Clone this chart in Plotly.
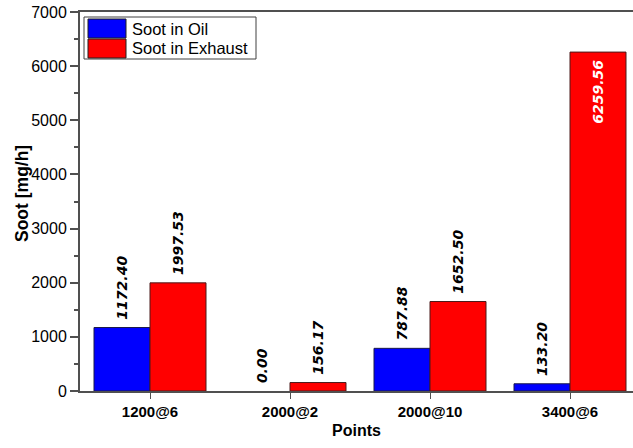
import plotly.graph_objects as go

# Operating points and measured soot rates [mg/h]
points = ["1200@6", "2000@2", "2000@10", "3400@6"]
soot_oil = [1172.40, 0.00, 787.88, 133.20]
soot_exhaust = [1997.53, 156.17, 1652.50, 6259.56]
series_names = ["Soot in Oil", "Soot in Exhaust"]
series_colors = ["#0000FF", "#FF0000"]

W, H = 633, 448
ML, MR, MT, MB = 80, 0, 12, 57
PW, PH = W - ML - MR, H - MT - MB

NB = "\u00a0"
label_font = dict(family="DejaVu Sans", size=14, color="black")


def outside_label(v):
    # leading space lifts the rotated label a little off the bar top
    return f"<b><i>{NB}{v:.2f}</i></b>"


def inside_label(v):
    # trailing space keeps the rotated label a little below the bar top
    return f"<b><i>{v:.2f}{NB}</i></b>"


def px_x(px):
    return (px - ML) / PW


def px_y(py):
    return (H - MB - py) / PH


fig = go.Figure()
fig.add_trace(go.Bar(
    x=points, y=soot_oil, name=series_names[0],
    marker=dict(color=series_colors[0],
                line=dict(color="#1a1a4a", width=[1 if v > 0 else 0 for v in soot_oil])),
    text=[outside_label(v) for v in soot_oil],
    textposition="outside", textangle=-90, constraintext="none",
    outsidetextfont=label_font, cliponaxis=False,
))
exh_pos = ["outside", "outside", "outside", "inside"]
fig.add_trace(go.Bar(
    x=points, y=soot_exhaust, name=series_names[1],
    marker=dict(color=series_colors[1], line=dict(color="#4a1a1a", width=1)),
    text=[inside_label(v) if p == "inside" else outside_label(v)
          for v, p in zip(soot_exhaust, exh_pos)],
    textposition=exh_pos, textangle=-90, constraintext="none",
    insidetextanchor="end",
    outsidetextfont=label_font,
    insidetextfont=dict(family="DejaVu Sans", size=14, color="white"),
    cliponaxis=False,
))

axis_col = "#505050"
fig.update_layout(
    width=W, height=H,
    margin=dict(l=ML, r=MR, t=MT, b=MB),
    paper_bgcolor="white", plot_bgcolor="white",
    barmode="group", bargap=0.2, bargroupgap=0,
    showlegend=False,
    font=dict(family="Liberation Sans, Arial", color="black"),
    xaxis=dict(
        type="category", range=[-0.5, 3.45],
        showline=True, linecolor=axis_col, linewidth=2, mirror=True,
        ticks="outside", ticklen=6, tickcolor=axis_col, tickwidth=1,
        tickfont=dict(size=15, family="Liberation Sans, Arial"),
        tickprefix="<b>", ticksuffix="</b>",
        title=dict(text="<b>Points</b>", font=dict(size=16), standoff=6),
        showgrid=False, zeroline=False,
    ),
    yaxis=dict(
        range=[0, 7000], dtick=1000,
        showline=True, linecolor=axis_col, linewidth=2,
        ticks="outside", ticklen=8, tickcolor=axis_col, tickwidth=2,
        minor=dict(dtick=500, ticks="outside", ticklen=4, tickcolor=axis_col, tickwidth=2),
        tickfont=dict(size=16, family="Liberation Sans, Arial"),
        showgrid=False, zeroline=False,
    ),
)

# Y-axis title placed as a rotated annotation
fig.add_annotation(xref="paper", yref="paper", x=px_x(22), y=px_y(194),
                   text="<b>Soot [mg/h]</b>", textangle=-90, showarrow=False,
                   xanchor="center", yanchor="middle",
                   font=dict(size=17.5, family="Liberation Sans, Arial", color="black"))

# Legend box with large colour swatches
fig.add_shape(type="rect", xref="paper", yref="paper",
              x0=px_x(84), x1=px_x(256), y0=px_y(59), y1=px_y(17),
              line=dict(color="#404040", width=1), fillcolor="white")
for i, (name, col) in enumerate(zip(series_names, series_colors)):
    top = 19 + i * 20
    fig.add_shape(type="rect", xref="paper", yref="paper",
                  x0=px_x(88), x1=px_x(126), y0=px_y(top + 19), y1=px_y(top),
                  line=dict(color="#202020", width=1), fillcolor=col)
    fig.add_annotation(xref="paper", yref="paper", x=px_x(130), y=px_y(top + 9.5),
                       text=name, showarrow=False, xanchor="left", yanchor="middle",
                       font=dict(size=16.5, family="Liberation Sans, Arial", color="black"))

fig.write_html("out.html")
